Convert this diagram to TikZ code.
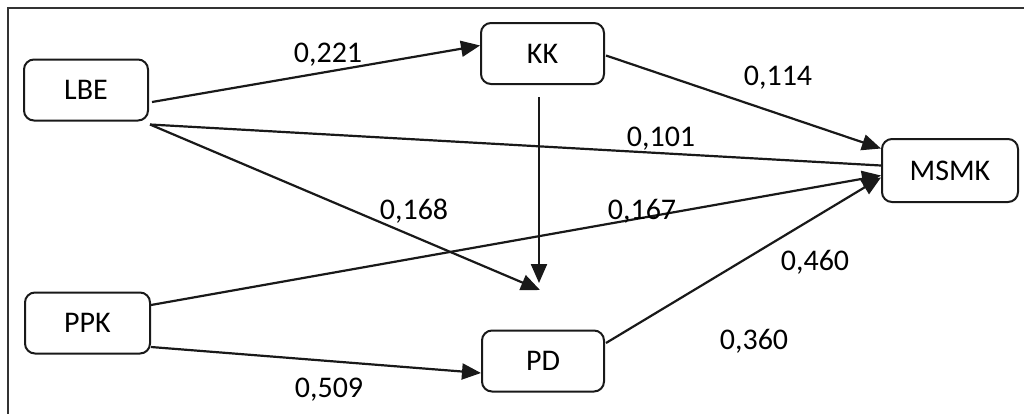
\documentclass[tikz,border=0pt]{standalone}
\usepackage{fontspec}
\setmainfont{Carlito}
\usetikzlibrary{arrows.meta,calc}
\begin{document}
\begin{tikzpicture}[x=0.5pt,y=-0.5pt,
  box/.style={draw=black!90,line width=1pt,rounded corners=5pt,inner sep=0pt,
    minimum height=30.5pt,font=\fontsize{15}{18}\selectfont},
  conn/.style={line width=1.1pt,draw=black!90},
  arr/.style={conn,-{Triangle[length=9.5pt,width=8pt]}},
  lbl/.style={font=\fontsize{15}{18}\selectfont,inner sep=0pt}]
\useasboundingbox (0,0) rectangle (1024,414);
\fill[white] (0,0) rectangle (1024,414);
\draw[line width=1.2pt,draw=black!80] (1024,8) -- (8,8) -- (8,414);
% nodes
\node[box,minimum width=62pt] (LBE) at (86,90) {LBE};
\node[box,minimum width=61.5pt] (KK) at (542.5,53.5) {KK};
\node[box,minimum width=68pt,minimum height=31.5pt] (MSMK) at (950,170.5) {MSMK};
\node[box,minimum width=62.5pt] (PPK) at (87.5,323) {PPK};
\node[box,minimum width=61pt] (PD) at (543,361) {PD};
\coordinate (T) at (540,290);
\coordinate (V) at (539,283);
% connectors
\draw[arr] ($(LBE.east)+(3,12)$) -- ($(KK.west)+(0,-8)$);
\draw[conn] ($(LBE.south east)+(1,3)$) -- ($(MSMK.west)+(0,-5)$);
\draw[arr] ($(LBE.south east)+(1,3)$) -- (T);
\draw[arr] ($(KK.south)+(-3.5,12)$) -- (V);
\draw[arr] ($(KK.east)+(1,2)$) -- ($(MSMK.west)+(0,-22)$);
\draw[arr] ($(PPK.east)+(0,-18)$) -- ($(MSMK.west)+(0,5)$);
\draw[arr] ($(PD.east)+(1,-18)$) -- ($(MSMK.west)+(0,7)$);
\draw[arr] ($(PPK.east)+(0,24)$) -- ($(PD.west)+(0,12)$);
% labels
\node[lbl] (l221) at (328,55) {0,221};
\node[lbl] (l114) at (778,78) {0,114};
\node[lbl] (l101) at (661,139) {0,101};
\node[lbl] (l168) at (414,211) {0,168};
\node[lbl] (l167) at (642,211) {0,167};
\node[lbl] (l460) at (815,262) {0,460};
\node[lbl] (l360) at (754,341) {0,360};
\node[lbl] (l509) at (329,390) {0,509};
\end{tikzpicture}
\end{document}
